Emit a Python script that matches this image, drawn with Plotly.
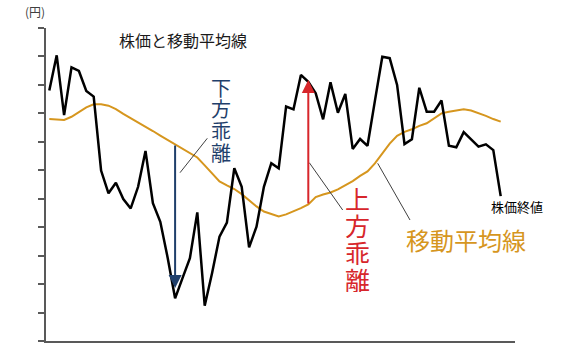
import plotly.graph_objects as go

# ---- data ----
price = [8.80, 10.04, 7.94, 9.62, 9.49, 8.79, 8.59, 5.99, 5.19, 5.56,
         4.99, 4.66, 5.42, 6.68, 4.84, 4.19, 2.92, 1.50, 2.21, 2.91,
         4.52, 1.24, 2.39, 3.67, 4.16, 6.07, 5.42, 3.29, 4.02, 5.42,
         6.25, 6.07, 8.24, 8.14, 9.35, 9.11, 8.71, 7.79, 9.09, 8.02,
         8.68, 6.75, 7.10, 6.86, 8.44, 9.99, 9.94, 9.00, 6.92, 7.09,
         8.90, 8.06, 8.06, 8.45, 6.86, 6.81, 7.34, 7.09, 6.83, 6.91,
         6.71, 5.09]
moving_avg = [7.80, 7.79, 7.77, 7.88, 8.05, 8.21, 8.32, 8.32, 8.27, 8.15,
              7.98, 7.83, 7.71, 7.56, 7.38, 7.22, 7.07, 6.92, 6.77, 6.63,
              6.45, 6.17, 5.87, 5.61, 5.47, 5.34, 5.16, 4.94, 4.73, 4.55,
              4.46, 4.38, 4.45, 4.55, 4.67, 4.80, 5.06, 5.15, 5.22, 5.33,
              5.47, 5.62, 5.80, 5.96, 6.24, 6.61, 6.94, 7.21, 7.35, 7.44,
              7.56, 7.65, 7.82, 8.00, 8.06, 8.10, 8.14, 8.10, 8.01, 7.91,
              7.80, 7.71]
days = list(range(len(price)))
y_ticks = list(range(0, 12))
down_idx = 17   # 下方乖離 arrow position
up_idx = 35     # 上方乖離 arrow position

title_text = "株価と移動平均線"
unit_text = "(円)"
ma_label = "移動平均線"
end_label = "株価終値"
down_label = "下方乖離"
up_label = "上方乖離"

FONT = "Noto Sans CJK JP"
ORANGE = "#D6961E"
BLUE = "#1F3F6B"
RED = "#D7262B"
AXIS = "#595959"

W, H = 567, 358
L, R, T, B = 46, 52, 28, 17
PW, PH = W - L - R, H - T - B


def px(x):
    return (x - L) / PW


def py(y):
    return (H - B - y) / PH


fig = go.Figure()
fig.add_trace(go.Scatter(x=days, y=moving_avg, mode="lines",
                         line=dict(color=ORANGE, width=2), hoverinfo="skip"))
fig.add_trace(go.Scatter(x=days, y=price, mode="lines",
                         line=dict(color="#000000", width=2.5), hoverinfo="skip"))

ann = []
# arrows (data coordinates)
ann.append(dict(x=down_idx, y=price[down_idx] + 0.36, ax=down_idx, ay=moving_avg[down_idx],
                xref="x", yref="y", axref="x", ayref="y", text="", showarrow=True,
                arrowhead=2, arrowsize=1.3, arrowwidth=2, arrowcolor=BLUE))
ann.append(dict(x=up_idx, y=price[up_idx] + 0.06, ax=up_idx, ay=moving_avg[up_idx] - 0.02,
                xref="x", yref="y", axref="x", ayref="y", text="", showarrow=True,
                arrowhead=2, arrowsize=1.3, arrowwidth=2, arrowcolor=RED))

# texts
ann.append(dict(x=px(183), y=py(40), xref="paper", yref="paper", text=title_text,
                showarrow=False, font=dict(family=FONT, size=16, color="#1a1a1a"),
                xanchor="center", yanchor="middle"))
ann.append(dict(x=px(35), y=py(11), xref="paper", yref="paper", text=unit_text,
                showarrow=False, font=dict(family=FONT, size=12, color="#404040"),
                xanchor="center", yanchor="middle"))
ann.append(dict(x=px(466), y=py(239), xref="paper", yref="paper", text=ma_label,
                showarrow=False, font=dict(family=FONT, size=24, color=ORANGE),
                xanchor="center", yanchor="middle"))
ann.append(dict(x=px(517), y=py(206), xref="paper", yref="paper", text=end_label,
                showarrow=False, font=dict(family=FONT, size=13, color="#000000"),
                xanchor="center", yanchor="middle"))

for i, ch in enumerate(down_label):
    ann.append(dict(x=px(221), y=py(87 + 21.7 * i), xref="paper", yref="paper", text=ch,
                    showarrow=False, font=dict(family=FONT, size=20, color=BLUE),
                    height=21, valign="middle",
                    xanchor="center", yanchor="middle"))
for i, ch in enumerate(up_label):
    ann.append(dict(x=px(357), y=py(197 + 27.2 * i), xref="paper", yref="paper", text=ch,
                    showarrow=False, font=dict(family=FONT, size=25, color=RED),
                    height=27, valign="middle",
                    xanchor="center", yanchor="middle"))

# leader lines
shapes = []
for (x0, y0, x1, y1) in [(207.3, 138.3, 180, 172.7),
                         (309.3, 162.7, 342.7, 210),
                         (377.7, 163.3, 410, 220)]:
    shapes.append(dict(type="line", xref="paper", yref="paper",
                       x0=px(x0), y0=py(y0), x1=px(x1), y1=py(y1),
                       line=dict(color="#404040", width=1)))

x0_data = (46 - 49.3) / 7.4
x1_data = (515 - 49.3) / 7.4

fig.update_layout(
    width=W, height=H,
    margin=dict(l=L, r=R, t=T, b=B, pad=0),
    paper_bgcolor="white", plot_bgcolor="white",
    showlegend=False,
    annotations=ann, shapes=shapes,
    font=dict(family=FONT),
    xaxis=dict(range=[x0_data, x1_data], showgrid=False, zeroline=False,
               showline=True, linecolor=AXIS, linewidth=1.5,
               showticklabels=False, ticks=""),
    yaxis=dict(range=[0, 11], showgrid=False, zeroline=False,
               showline=True, linecolor=AXIS, linewidth=1.5,
               tickmode="array", tickvals=y_ticks, ticks="outside",
               ticklen=6, tickwidth=1.5, tickcolor=AXIS, showticklabels=False),
)

fig.write_html("out.html", config={"displayModeBar": False},
               post_script="document.body.style.margin='0px';document.body.style.overflow='hidden';")
